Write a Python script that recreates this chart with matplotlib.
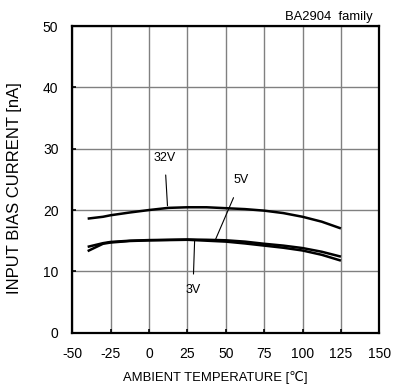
import matplotlib
matplotlib.use("Agg")
import matplotlib.pyplot as plt

plt.rcParams['font.family'] = ['Liberation Sans', 'DejaVu Sans']
plt.rcParams['axes.unicode_minus'] = False

temps = [-40, -30, -25, -12.5, 0, 12.5, 25, 37.5, 50, 62.5, 75, 87.5, 100, 112.5, 125]
i_32v = [18.6, 18.9, 19.15, 19.6, 20.0, 20.35, 20.45, 20.45, 20.3, 20.15, 19.9, 19.5, 18.9, 18.1, 17.0]
i_5v = [14.0, 14.6, 14.8, 15.0, 15.1, 15.15, 15.2, 15.15, 15.07, 14.85, 14.5, 14.2, 13.8, 13.2, 12.4]
i_3v = [13.3, 14.5, 14.7, 14.95, 15.05, 15.1, 15.15, 15.0, 14.85, 14.55, 14.2, 13.85, 13.4, 12.7, 11.75]

x_ticks = [-50, -25, 0, 25, 50, 75, 100, 125, 150]
y_ticks = [0, 10, 20, 30, 40, 50]

fig = plt.figure(figsize=(4.03, 3.90), dpi=100)
ax = fig.add_axes([0.1794, 0.1469, 0.9412 - 0.1794, 0.9333 - 0.1469])

for y in (i_32v, i_5v, i_3v):
    ax.plot(temps, y, color='black', lw=1.8, solid_capstyle='butt', zorder=3)

ax.set_xlim(-50, 150)
ax.set_ylim(0, 50)
ax.set_xticks(x_ticks)
ax.set_yticks(y_ticks)
ax.grid(True, color='#808080', lw=1.0)
ax.set_axisbelow(True)
for s in ax.spines.values():
    s.set_linewidth(1.6)
ax.tick_params(direction='in', length=3, width=1.2, labelsize=10, pad=10)

ax.set_xlabel('AMBIENT TEMPERATURE [℃]', fontsize=9.4)
ax.set_ylabel('INPUT BIAS CURRENT [nA]', fontsize=12)
ax.xaxis.set_label_coords(0.465, -0.125)
ax.yaxis.set_label_coords(-0.165, 0.47)

fig.text(372.7 / 403, 1 - 17 / 390, 'BA2904  family', ha='right', va='center', fontsize=9.4)

# annotations
ax.annotate('32V', xy=(12, 20.7), xytext=(10.2, 28.5), ha='center', va='center', fontsize=9,
            arrowprops=dict(arrowstyle='-', color='black', lw=0.8, shrinkA=6, shrinkB=0))
ax.annotate('5V', xy=(43.3, 15.2), xytext=(60, 24.9), ha='center', va='center', fontsize=9,
            arrowprops=dict(arrowstyle='-', color='black', lw=0.8, shrinkA=7, shrinkB=0))
ax.annotate('3V', xy=(29.7, 15.1), xytext=(28.6, 7.0), ha='center', va='center', fontsize=9,
            arrowprops=dict(arrowstyle='-', color='black', lw=0.8, shrinkA=-5, shrinkB=0))

fig.savefig('out.png', dpi=100)
